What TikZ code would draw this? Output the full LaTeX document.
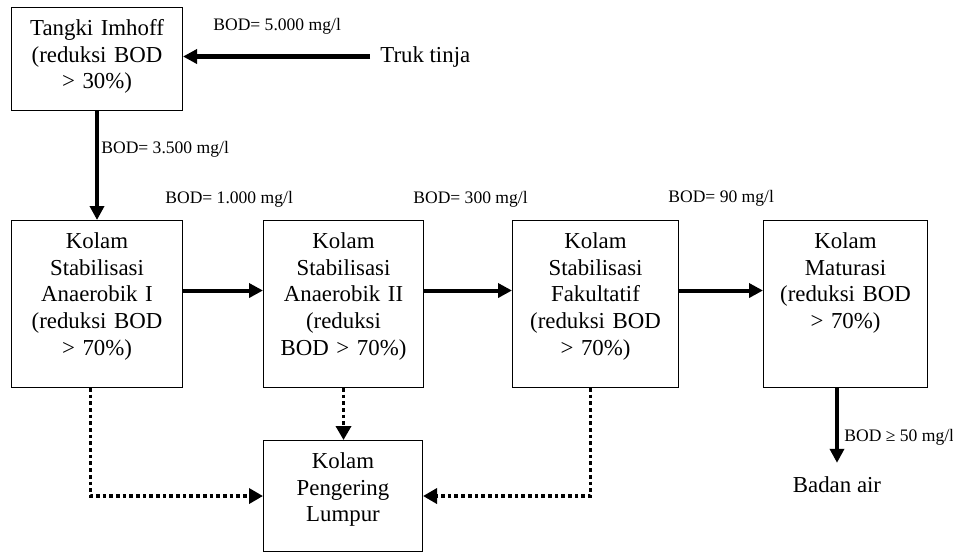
\documentclass[tikz,border=0pt]{standalone}
\usepackage{fontspec}
\setmainfont{Liberation Serif}
\usetikzlibrary{arrows.meta}
\tikzset{
  kotak/.style={draw, line width=0.6pt, align=center, inner xsep=0pt, inner ysep=0pt,
    text height=0.56cm, anchor=north west, font=\fontsize{13}{15.2}\selectfont},
  teks/.style={inner sep=0pt, font=\fontsize{13}{15.2}\selectfont},
  ket/.style={inner sep=0pt, anchor=base west, font=\fontsize{10}{12}\selectfont},
  panah/.style={line width=2.3pt, -{Triangle[length=0.28cm,width=0.28cm]}},
  titik/.style={line width=2.2pt, dash pattern=on 2.1pt off 1.7pt, -{Triangle[length=0.28cm,width=0.3cm]}}
}
\begin{document}
\begin{tikzpicture}[x=0.02cm, y=-0.02cm]
  \useasboundingbox (0,0) rectangle (953,552);
  % kotak-kotak
  \node[kotak, text width=3.42cm, text depth=1.5cm] (tangki) at (11,7) {Tangki Imhoff\\(reduksi BOD\\> 30\%)};
  \node[kotak, text width=3.42cm, text depth=2.78cm] (ka1) at (11,220) {Kolam\\Stabilisasi\\Anaerobik I\\(reduksi BOD\\> 70\%)};
  \node[kotak, text width=3.2cm, text depth=2.78cm] (ka2) at (263,220) {Kolam\\Stabilisasi\\Anaerobik II\\(reduksi\\BOD > 70\%)};
  \node[kotak, text width=3.32cm, text depth=2.78cm] (ka3) at (512,220) {Kolam\\Stabilisasi\\Fakultatif\\(reduksi BOD\\> 70\%)};
  \node[kotak, text width=3.28cm, text depth=2.78cm] (ka4) at (763,220) {Kolam\\Maturasi\\(reduksi BOD\\> 70\%)};
  \node[kotak, text width=3.18cm, text depth=1.66cm] (lumpur) at (263,440) {Kolam\\Pengering\\Lumpur};
  \node[teks, anchor=base west] (truk) at (380,62) {Truk tinja};
  \node[teks, anchor=base] (badan) at (837,492) {Badan air};
  % keterangan BOD
  \foreach \n/\x/\y/\t in {b1/213/30/{BOD= 5.000 mg/l}, b2/101/153/{BOD= 3.500 mg/l},
      b3/165/203/{BOD= 1.000 mg/l}, b4/413/203/{BOD= 300 mg/l},
      b5/668/202/{BOD= 90 mg/l}, b6/844/441/{BOD ≥ 50 mg/l}}
    \node[ket] (\n) at (\x,\y) {\t};
  % aliran
  \draw[panah, shorten <=0.2cm] (truk.west) -- (truk.west -| tangki.east);
  \draw[panah] (tangki) -- (ka1);
  \foreach \a/\b in {ka1/ka2, ka2/ka3, ka3/ka4}
    \draw[panah] ([yshift=0.27cm]\a.east) -- ([yshift=0.27cm]\b.west);
  \draw[panah, shorten >=0.26cm] (ka4.south -| badan.north) -- (badan.north);
  % lumpur
  \draw[titik] ([xshift=-0.13cm]ka1.south) |- (lumpur.west);
  \draw[titik] (ka2.south) -- (ka2.south |- lumpur.north);
  \draw[titik] ([xshift=-0.1cm]ka3.south) |- (lumpur.east);
\end{tikzpicture}
\end{document}
